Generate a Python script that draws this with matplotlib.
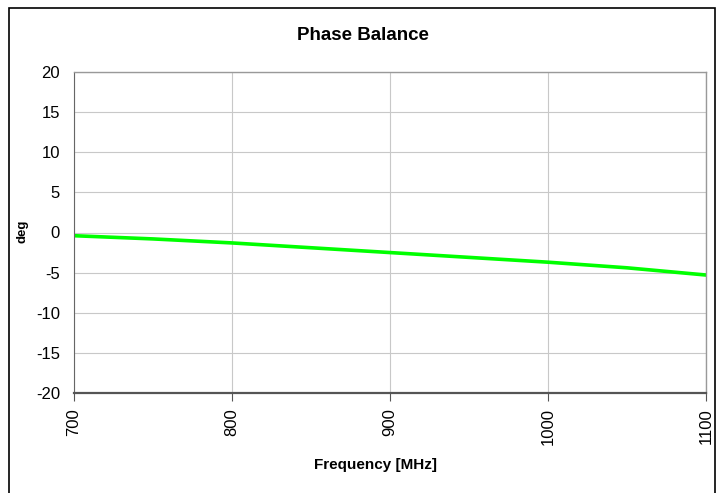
import matplotlib
matplotlib.use("Agg")
import matplotlib.pyplot as plt
from matplotlib.patches import Rectangle

# ── Data ──────────────────────────────────────────────────────────────────────
freq_mhz = [700, 750, 800, 850, 900, 950, 1000, 1050, 1100]
phase_deg = [-0.4, -0.8, -1.3, -1.9, -2.5, -3.1, -3.7, -4.4, -5.3]

x_ticks = [700, 800, 900, 1000, 1100]
y_ticks = [-20, -15, -10, -5, 0, 5, 10, 15, 20]

plt.rcParams["font.family"] = ["Liberation Sans", "DejaVu Sans"]
plt.rcParams["axes.unicode_minus"] = False

fig = plt.figure(figsize=(7.18, 4.93), dpi=100)

# outer chart frame
fig.patches.append(Rectangle((9 / 718, -0.01), 706 / 718, (493 - 8) / 493 + 0.01,
                             transform=fig.transFigure, fill=False,
                             edgecolor="black", linewidth=1.2))

ax = fig.add_axes([74 / 718, 100 / 493, 632 / 718, 321 / 493])
ax.plot(freq_mhz, phase_deg, color="#00ff00", linewidth=2.6)

ax.set_xlim(700, 1100)
ax.set_ylim(-20, 20)
ax.set_xticks(x_ticks)
ax.set_yticks(y_ticks)
ax.tick_params(axis="x", labelrotation=90, length=6, color="#555555",
               labelsize=12, pad=5)
ax.tick_params(axis="y", length=0, labelsize=12, pad=10)
ax.grid(True, color="#c8c8c8", linewidth=0.8)

for side in ("top", "right"):
    ax.spines[side].set_color("#999999")
    ax.spines[side].set_linewidth(1.0)
ax.spines["left"].set_color("#666666")
ax.spines["bottom"].set_color("#555555")
ax.spines["bottom"].set_linewidth(1.6)

ax.set_title("Phase Balance", fontsize=13.5, fontweight="bold",
             x=0.4565, y=1.0997, pad=0)
ax.set_xlabel("Frequency [MHz]", fontsize=11, fontweight="bold")
ax.xaxis.label.set_va("center")
ax.xaxis.set_label_coords(0.477, -0.224)
ax.set_ylabel("deg", fontsize=9.5, fontweight="bold")
ax.yaxis.label.set_va("center")
ax.yaxis.set_label_coords(-0.082, 0.505)

fig.savefig("out.png", dpi=100)
